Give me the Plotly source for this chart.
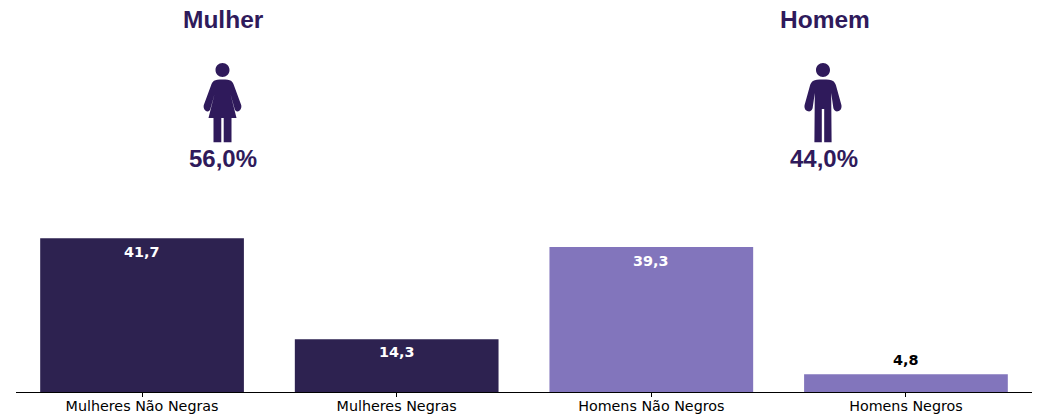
import plotly.graph_objects as go

categories = ["Mulheres Não Negras", "Mulheres Negras", "Homens Não Negros", "Homens Negros"]
values = [41.7, 14.3, 39.3, 4.8]
bar_colors = ["#2d2250", "#2d2250", "#8275bc", "#8275bc"]
label_colors = ["white", "white", "white", "black"]
label_shift = [-14, -13, -14, 14]
group_names = ["Mulher", "Homem"]
group_shares = ["56,0%", "44,0%"]
ICON = "#2f1a5b"

W, H = 1040, 414
L, R, B, T = 16, 8, 19.5, 0
PW, PH = W - L - R, H - B - T
ANCHOR_FIX = 1


def px(x):
    return (x - L) / PW


def py(y):
    return (H - B - y - ANCHOR_FIX) / PH


HEAD = ("M-7,0 C-7,3.9 -3.9,7 0,7 C3.9,7 7,3.9 7,0 C7,-3.9 3.9,-7 0,-7 C-3.9,-7 -7,-3.9 -7,0 Z ")
FEMALE = HEAD + (
    "M0,-9.5 C4,-9.5 7,-9.8 8.5,-10.8 C10,-12 10.8,-13.5 11.5,-15.5 L18.7,-35 "
    "C19.4,-38 17.8,-41 15,-41.5 C13.8,-41.7 12.6,-40.5 12,-38.5 L8,-24 "
    "L14,-48 L9,-48 L9,-72.2 L1.2,-72.2 L1.2,-48 L-1.2,-48 L-1.2,-72.2 L-9,-72.2 L-9,-48 "
    "L-14,-48 L-8,-24 L-12,-38.5 C-12.6,-40.5 -13.8,-41.7 -15,-41.5 C-17.8,-41 -19.4,-38 -18.7,-35 "
    "L-11.5,-15.5 C-10.8,-13.5 -10,-12 -8.5,-10.8 C-7,-9.8 -4,-9.5 0,-9.5 Z"
)
MALE = HEAD + (
    "M0,-9.5 C5,-9.5 8,-9.8 10,-11 C11.5,-12 12.3,-13.5 13,-15.5 L18.4,-35 "
    "C19,-38 17.6,-41 14.8,-41.3 C12.8,-41.6 11,-40.5 10.4,-38.2 L8.2,-23 "
    "L8.6,-72.2 L1.2,-72.2 L1.2,-39 L-1.2,-39 L-1.2,-72.2 L-8.6,-72.2 L-8.2,-23 "
    "L-10.4,-38.2 C-11,-40.5 -12.8,-41.6 -14.8,-41.3 C-17.6,-41 -19,-38 -18.4,-35 "
    "L-13,-15.5 C-12.3,-13.5 -11.5,-12 -10,-11 C-8,-9.8 -5,-9.5 0,-9.5 Z"
)

fig = go.Figure(go.Bar(x=categories, y=values, marker=dict(color=bar_colors, line_width=0),
                       width=0.8, hoverinfo="skip"))

annotations = []
for c, v, col, s in zip(categories, values, label_colors, label_shift):
    annotations.append(dict(x=c, y=v, xref="x", yref="y", yshift=s, showarrow=False,
                            text=f"{v:.1f}".replace(".", ","), xanchor="center", yanchor="middle",
                            font=dict(family="DejaVu Sans", size=14.4, color=col, weight="bold")))

shapes = []
for name, share, cx, tx, icon in zip(group_names, group_shares, [222.5, 823], [223, 825], [FEMALE, MALE]):
    annotations.append(dict(x=px(tx), y=py(18.5), xref="paper", yref="paper", showarrow=False, text=f"<b>{name}</b>",
                            xanchor="center", yanchor="middle",
                            font=dict(family="Liberation Sans", size=24.5, color=ICON)))
    annotations.append(dict(x=px(cx + 0.5), y=py(158.5), xref="paper", yref="paper", showarrow=False, text=f"<b>{share}</b>",
                            xanchor="center", yanchor="middle",
                            font=dict(family="Liberation Sans", size=24, color=ICON)))
    shapes.append(dict(type="path", xref="paper", yref="paper", xsizemode="pixel", ysizemode="pixel",
                       xanchor=px(cx), yanchor=py(69.5), path=icon, fillcolor=ICON, line_width=0))

fig.update_layout(
    width=W, height=H, margin=dict(l=L, r=R, b=B, t=T, pad=0),
    plot_bgcolor="white", paper_bgcolor="white", showlegend=False,
    annotations=annotations, shapes=shapes,
    xaxis=dict(type="category", range=[-0.495, 3.495], showgrid=False, zeroline=False,
               showline=True, linecolor="black", linewidth=1, ticks="outside", ticklen=3.5,
               tickwidth=1, tickcolor="black", ticklabelstandoff=-3,
               tickfont=dict(family="DejaVu Sans", size=14.3, color="black")),
    yaxis=dict(range=[0, (H - B) / 3.71], visible=False),
)
fig.write_html("out.html", config=dict(displayModeBar=False),
               post_script="document.body.style.margin='0';document.documentElement.style.overflow='hidden';")
